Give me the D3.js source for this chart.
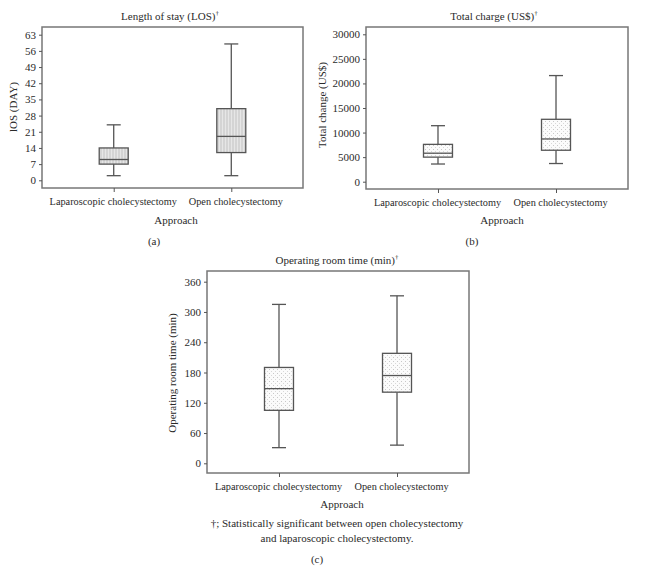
<!DOCTYPE html>
<html><head><meta charset="utf-8">
<script src="https://cdn.jsdelivr.net/npm/d3@7/dist/d3.min.js"></script>
<style>
body{margin:0;background:#fff;}
svg text{font-family:"Liberation Serif","DejaVu Serif",serif;fill:#2a2a2a;}
</style></head>
<body><svg id="c" width="647" height="572"></svg>
<script>
const categories = ["Laparoscopic cholecystectomy", "Open cholecystectomy"];
// [min, Q1, median, Q3, max]
const losStats = [[2, 7, 9, 14, 24], [2, 12, 19, 31, 59]];
const chargeStats = [[3600, 5000, 5800, 7600, 11400], [3700, 6400, 8700, 12700, 21600]];
const orStats = [[31, 105, 148, 190, 315], [36, 141, 174, 218, 332]];
const losTicks = [0, 7, 14, 21, 28, 35, 42, 49, 56, 63];
const chargeTicks = [0, 5000, 10000, 15000, 20000, 25000, 30000];
const orTicks = [0, 60, 120, 180, 240, 300, 360];

const svg = d3.select("#c");
const defs = svg.append("defs");
// stripe pattern (panel a)
const ps = defs.append("pattern").attr("id","stripe").attr("patternUnits","userSpaceOnUse").attr("width",3).attr("height",3);
ps.append("rect").attr("width",3).attr("height",3).attr("fill","#d4d4d4");
ps.append("rect").attr("x",0).attr("width",1).attr("height",3).attr("fill","#e6e6e6");
// dot pattern (panels b, c)
const pd = defs.append("pattern").attr("id","dots").attr("patternUnits","userSpaceOnUse").attr("width",4).attr("height",4);
pd.append("rect").attr("width",4).attr("height",4).attr("fill","#fbfbfb");
pd.append("rect").attr("x",1).attr("y",1).attr("width",1).attr("height",1).attr("fill","#c8c8c8");
pd.append("rect").attr("x",3).attr("y",3).attr("width",1).attr("height",1).attr("fill","#d8d8d8");

function panel(o){
  const g = svg.append("g");
  const x = d3.scalePoint().domain(categories).range([o.l, o.r]).padding(0.61);
  const y = d3.scaleLinear().domain([o.ticks[0], o.ticks[o.ticks.length-1]]).range([o.y0, o.y1]);
  // frame
  g.append("rect").attr("x",o.l).attr("y",o.t).attr("width",o.r-o.l).attr("height",o.b-o.t)
    .attr("fill","none").attr("stroke","#777").attr("stroke-width",1.5);
  // y axis
  const ya = g.append("g").attr("transform",`translate(${o.l},0)`)
    .call(d3.axisLeft(y).tickValues(o.ticks).tickSize(3).tickPadding(3).tickFormat(d3.format("d")));
  ya.select(".domain").remove();
  ya.selectAll("line").attr("stroke","#555");
  ya.selectAll("text").style("font-size","11px").style("font-family","'Liberation Serif',serif").attr("fill","#2a2a2a");
  // x axis
  const xa = g.append("g").attr("transform",`translate(0,${o.b})`)
    .call(d3.axisBottom(x).tickSize(4).tickPadding(6));
  xa.select(".domain").remove();
  xa.selectAll("line").attr("stroke","#555");
  xa.selectAll("text").style("font-size","10.3px").style("font-family","'Liberation Serif',serif").attr("fill","#2a2a2a")
    .attr("dx",(d,i)=> i===0 ? -1 : 4);
  // boxes
  const bw = 29, cw = 14;
  o.stats.forEach((s,i)=>{
    const cx = x(categories[i]);
    const bg = g.append("g").attr("stroke","#555").attr("stroke-width",1.3);
    bg.append("line").attr("x1",cx).attr("x2",cx).attr("y1",y(s[0])).attr("y2",y(s[1]));
    bg.append("line").attr("x1",cx).attr("x2",cx).attr("y1",y(s[3])).attr("y2",y(s[4]));
    bg.append("line").attr("x1",cx-cw/2).attr("x2",cx+cw/2).attr("y1",y(s[0])).attr("y2",y(s[0]));
    bg.append("line").attr("x1",cx-cw/2).attr("x2",cx+cw/2).attr("y1",y(s[4])).attr("y2",y(s[4]));
    bg.append("rect").attr("x",cx-bw/2).attr("width",bw).attr("y",y(s[3])).attr("height",y(s[1])-y(s[3]))
      .attr("fill",`url(#${o.fill})`);
    bg.append("line").attr("x1",cx-bw/2).attr("x2",cx+bw/2).attr("y1",y(s[2])).attr("y2",y(s[2]));
  });
  // title
  const tt = g.append("text").attr("x",o.tx).attr("y",o.ty).attr("text-anchor","middle").attr("dominant-baseline","middle").style("font-size","11px");
  tt.append("tspan").text(o.title);
  tt.append("tspan").attr("dy",-4).style("font-size","7px").text("†");
  // y label
  g.append("text").attr("transform",`translate(${o.ylx},${o.yly}) rotate(-90)`).attr("text-anchor","middle")
    .attr("dominant-baseline","middle").style("font-size","11px").text(o.ylabel);
  // x label
  g.append("text").attr("x",o.axx).attr("y",o.axy).attr("text-anchor","middle").attr("dominant-baseline","middle")
    .style("font-size","11px").text("Approach");
  // letter
  g.append("text").attr("x",o.lx).attr("y",o.ly).attr("text-anchor","middle").attr("dominant-baseline","middle")
    .style("font-size","11px").text(o.letter);
}

panel({l:42,r:303,t:27,b:188,y0:180.3,y1:34.7,ticks:losTicks,stats:losStats,fill:"stripe",
  title:"Length of stay (LOS)",tx:170,ty:17,ylabel:"lOS (DAY)",ylx:14,yly:107,axx:176,axy:221,letter:"(a)",lx:154,ly:242});
panel({l:366,r:628,t:27,b:189,y0:181.7,y1:34.3,ticks:chargeTicks,stats:chargeStats,fill:"dots",
  title:"Total charge (US$)",tx:494,ty:17,ylabel:"Total change (US$)",ylx:323,yly:105,axx:502,axy:221,letter:"(b)",lx:472,ly:242});
panel({l:207,r:469,t:271,b:473,y0:463.3,y1:281.7,ticks:orTicks,stats:orStats,fill:"dots",
  title:"Operating room time (min)",tx:337,ty:261,ylabel:"Operating room time (min)",ylx:173,yly:373,axx:342,axy:505,letter:"(c)",lx:317,ly:560});

svg.append("text").attr("x",337).attr("y",524).attr("text-anchor","middle").attr("dominant-baseline","middle")
  .style("font-size","11px").text("†; Statistically significant between open cholecystectomy");
svg.append("text").attr("x",337).attr("y",539).attr("text-anchor","middle").attr("dominant-baseline","middle")
  .style("font-size","11px").text("and laparoscopic cholecystectomy.");
</script></body></html>
